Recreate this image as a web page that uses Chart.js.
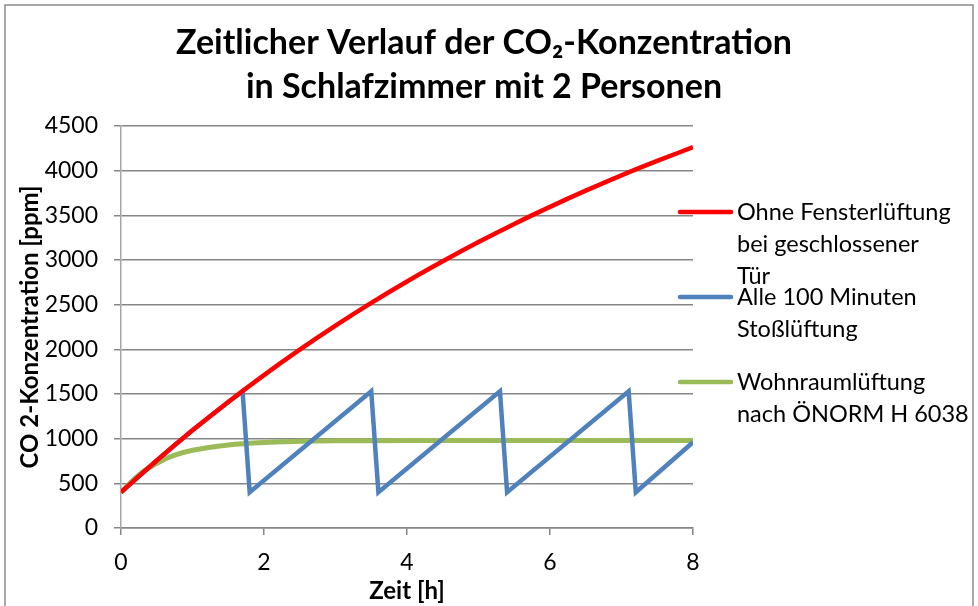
<!DOCTYPE html>
<html>
<head>
<meta charset="utf-8">
<script src="https://cdn.jsdelivr.net/npm/chart.js@4.4.0/dist/chart.umd.min.js"></script>
<style>
  html, body { margin: 0; padding: 0; background: #fff; }
  #wrap { position: relative; width: 978px; height: 606px; }
</style>
</head>
<body>
<div id="wrap"><canvas id="co2Chart"></canvas></div>
<script>
// Werte (Zeit in h, CO2 in ppm)
const redTimes   = [0, 0.5, 1, 1.5, 2, 2.5, 3, 3.5, 4, 4.5, 5, 5.5, 6, 6.5, 7, 7.5, 8];
const redValues  = [400, 756, 1093, 1411, 1712, 1996, 2265, 2520, 2760, 2986, 3201, 3404, 3595, 3776, 3948, 4109, 4263];

const blueTimes  = [0, 0.5, 1, 1.5, 1.7, 1.8, 3.5, 3.6, 5.3, 5.4, 7.1, 7.2, 8];
const blueValues = [400, 756, 1093, 1411, 1530, 400, 1530, 400, 1530, 400, 1530, 400, 960];

const greenTimes  = [0, 0.25, 0.5, 0.75, 1, 1.5, 2, 2.5, 3, 3.5, 4, 5, 6, 7, 8];
const greenValues = [400, 595, 725, 815, 870, 930, 958, 970, 976, 978, 979, 980, 980, 980, 980];

const seriesNames = [
  ['Ohne Fensterlüftung', 'bei geschlossener', 'Tür'],
  ['Alle 100 Minuten', 'Stoßlüftung'],
  ['Wohnraumlüftung', 'nach ÖNORM H 6038']
];
const seriesColors = ['#ff0000', '#4f81bd', '#9bbb59'];

const titleLines = ['Zeitlicher Verlauf der CO\u2082-Konzentration', 'in Schlafzimmer mit 2 Personen'];
const xTitle = 'Zeit [h]';
const yTitle = 'CO 2-Konzentration [ppm]';
const xMin = 0, xMax = 8, xStep = 2;
const yMin = 0, yMax = 4500, yStep = 500;

function toPoints(xs, ys) {
  return xs.map((x, i) => ({ x: x, y: ys[i] }));
}

const FONT = 'Lato, "Open Sans", sans-serif';
const GRID = '#868686';

const decor = {
  id: 'decor',
  beforeDraw(chart) {
    const ctx = chart.ctx;
    ctx.save();
    ctx.strokeStyle = '#8c8c8c';
    ctx.lineWidth = 1.5;
    ctx.strokeRect(5, 5, 968, 640);
    ctx.restore();
  },
  afterDraw(chart) {
    const ctx = chart.ctx;
    ctx.save();
    // Titel
    ctx.fillStyle = '#000';
    ctx.textAlign = 'center';
    ctx.textBaseline = 'middle';
    ctx.font = 'bold 34px ' + FONT;
    ctx.fillText(titleLines[0], 484, 43);
    ctx.fillText(titleLines[1], 484, 87);

    // Legende
    const legendY = [212, 297, 382];
    ctx.font = '23.5px ' + FONT;
    ctx.textAlign = 'left';
    chart.data.datasets.forEach((ds, i) => {
      ctx.strokeStyle = ds.borderColor;
      ctx.lineWidth = 4.5;
      ctx.lineCap = 'round';
      ctx.beginPath();
      ctx.moveTo(680, legendY[i]);
      ctx.lineTo(731, legendY[i]);
      ctx.stroke();
      ctx.fillStyle = '#000';
      seriesNames[i].forEach((t, j) => ctx.fillText(t, 737, legendY[i] + j * 32));
    });
    ctx.restore();
  }
};

new Chart(document.getElementById('co2Chart'), {
  type: 'line',
  data: {
    datasets: [
      {
        label: seriesNames[0].join(' '),
        data: toPoints(redTimes, redValues),
        borderColor: seriesColors[0],
        borderWidth: 4.5,
        cubicInterpolationMode: 'monotone',
        pointRadius: 0
      },
      {
        label: seriesNames[1].join(' '),
        data: toPoints(blueTimes, blueValues),
        borderColor: seriesColors[1],
        borderWidth: 4.5,
        tension: 0,
        pointRadius: 0
      },
      {
        label: seriesNames[2].join(' '),
        data: toPoints(greenTimes, greenValues),
        borderColor: seriesColors[2],
        borderWidth: 5,
        cubicInterpolationMode: 'monotone',
        pointRadius: 0
      }
    ]
  },
  options: {
    responsive: true,
    maintainAspectRatio: false,
    animation: false,
    layout: { padding: { top: 126, right: 285, bottom: 0, left: 0 } },
    plugins: {
      legend: { display: false },
      title: { display: false },
      tooltip: { enabled: false }
    },
    scales: {
      x: {
        type: 'linear',
        min: xMin,
        max: xMax,
        afterFit(scale) { scale.height = 78; },
        ticks: { stepSize: xStep, color: '#000', font: { family: FONT, size: 23 }, padding: 14, maxRotation: 0,
                 callback: v => String(v) },
        grid: { drawOnChartArea: false, drawTicks: true, tickLength: 7, color: GRID, lineWidth: 1.5 },
        border: { color: GRID, width: 1.5 },
        title: { display: true, text: xTitle, color: '#000', font: { family: FONT, size: 24, weight: 'bold' }, padding: { top: 2, bottom: 0 } }
      },
      y: {
        min: yMin,
        max: yMax,
        afterFit(scale) { scale.width = 121; },
        ticks: { stepSize: yStep, color: '#000', font: { family: FONT, size: 23 }, padding: 16,
                 callback: v => String(v) },
        grid: { color: GRID, lineWidth: 1.5, tickLength: 7 },
        border: { color: '#a6a6a6', width: 1.5 },
        title: { display: true, text: yTitle, color: '#000', font: { family: FONT, size: 24, weight: 'bold' }, padding: { top: 16, bottom: 0 } }
      }
    }
  },
  plugins: [decor]
});
</script>
</body>
</html>
